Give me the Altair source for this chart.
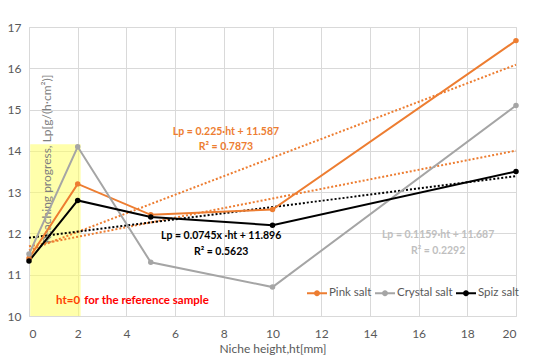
import altair as alt
import pandas as pd

# ---- data ----
ht = [0, 2, 5, 10, 20]
series_names = ["Pink salt", "Crystal salt", "Spiz salt"]
pink = [11.40, 13.20, 12.45, 12.58, 16.67]
crystal = [11.50, 14.10, 11.30, 10.70, 15.10]
spiz = [11.33, 12.80, 12.40, 12.20, 13.50]
colors = ["#ED7D31", "#A5A5A5", "#000000"]

# trend lines (from printed equations)
trend_names = ["Pink trend", "Crystal trend", "Spiz trend"]
trend_slope = [0.225, 0.1159, 0.0745]
trend_icpt = [11.587, 11.687, 11.896]
trend_colors = ["#ED7D31", "#ED7D31", "#000000"]
trend_x = [0, 20]

# annotations
eq_text = ["Lp = 0.225·ht + 11.587", "R² = 0.7873",
           "Lp = 0.0745x ·ht + 11.896", "R² = 0.5623",
           "Lp = 0.1159·ht + 11.687", "R² = 0.2292"]
eq_x = [8.09, 8.09, 7.89, 7.89, 16.8, 16.8]
eq_y = [14.46, 14.09, 11.94, 11.55, 11.96, 11.57]
eq_col = ["#ED7D31", "#ED7D31", "#000000", "#000000", "#BFBFBF", "#BFBFBF"]

FONT = "Lato"

rows = []
for name, vals in zip(series_names, [pink, crystal, spiz]):
    for x, v in zip(ht, vals):
        rows.append({"ht": x, "Lp": v, "series": name})
df = pd.DataFrame(rows)

trows = []
for name, s, b, c in zip(trend_names, trend_slope, trend_icpt, trend_colors):
    for x in trend_x:
        trows.append({"ht": x, "Lp": s * x + b, "trend": name})
tdf = pd.DataFrame(trows)

adf = pd.DataFrame({"x": eq_x, "y": eq_y, "t": eq_text, "c": eq_col})

xs = alt.Scale(domain=[0, 20], nice=False, zero=False)
ys = alt.Scale(domain=[10, 17], nice=False, zero=False)

xax = alt.Axis(values=list(range(0, 21, 2)), title="Niche height,ht[mm]", grid=True,
               ticks=False, domain=False, labelPadding=12, titlePadding=4,
               labelFontSize=12, titleFontSize=12, titleFontWeight="normal",
               labelColor="#595959", titleColor="#595959", labelFont=FONT, titleFont=FONT,
               gridColor="#D9D9D9")
yax = alt.Axis(values=list(range(10, 18)), title=None, grid=True, ticks=False, domain=False,
               labelPadding=8, labelFontSize=12, labelColor="#595959", labelFont=FONT,
               gridColor="#D9D9D9")

# yellow highlight
rect_df = pd.DataFrame({"x1": [0.05], "x2": [2.12], "y1": [10.0], "y2": [14.16]})
rect = alt.Chart(rect_df).mark_rect(color="#FFFF66", opacity=0.55).encode(
    x=alt.X("x1:Q", scale=xs, axis=xax), x2="x2", y=alt.Y("y1:Q", scale=ys, axis=yax), y2="y2")

ytitle = alt.Chart(pd.DataFrame({"x": [0.74], "y": [13.80],
                                 "t": ["Reaching progress, Lp[g/(h·cm²)]"]})).mark_text(
    angle=270, font=FONT, fontSize=12, color="#7F7F7F", align="center", baseline="middle").encode(
    x=alt.X("x:Q", scale=xs), y=alt.Y("y:Q", scale=ys), text="t:N")

trend = alt.Chart(tdf).mark_line(strokeWidth=2, strokeDash=[2, 2]).encode(
    x=alt.X("ht:Q", scale=xs), y=alt.Y("Lp:Q", scale=ys),
    color=alt.Color("trend:N", scale=alt.Scale(domain=trend_names, range=trend_colors), legend=None),
    detail="trend:N")

cscale = alt.Scale(domain=series_names, range=colors)
lines = alt.Chart(df).mark_line(strokeWidth=2).encode(
    x=alt.X("ht:Q", scale=xs), y=alt.Y("Lp:Q", scale=ys),
    color=alt.Color("series:N", scale=cscale, legend=None))

sym = "M-1,-0.1L1,-0.1L1,0.1L-1,0.1Z M0.3,0A0.3,0.3,0,1,1,-0.3,0A0.3,0.3,0,1,1,0.3,0Z"
points = alt.Chart(df).mark_point(filled=True, size=30, opacity=1).encode(
    x=alt.X("ht:Q", scale=xs), y=alt.Y("Lp:Q", scale=ys),
    color=alt.Color("series:N", scale=cscale, legend=alt.Legend(
        title=None, orient="none", direction="horizontal", legendX=278, legendY=256,
        symbolType=sym, symbolSize=400, symbolStrokeWidth=0, labelFont=FONT, labelFontSize=11.5,
        labelColor="#595959", labelOffset=2, columnPadding=3, symbolOpacity=1)))

ann = alt.Chart(adf).mark_text(font=FONT, fontSize=10.5, fontWeight="bold", align="center",
                               baseline="middle").encode(
    x=alt.X("x:Q", scale=xs), y=alt.Y("y:Q", scale=ys), text="t:N",
    color=alt.Color("c:N", scale=None))

red1 = alt.Chart(pd.DataFrame({"x": [1.11], "y": [10.36], "t": ["ht=0"]})).mark_text(
    font=FONT, fontSize=11.5, fontWeight="bold", align="left", baseline="middle", color="#FF4000").encode(
    x=alt.X("x:Q", scale=xs), y=alt.Y("y:Q", scale=ys), text="t:N")
red2 = alt.Chart(pd.DataFrame({"x": [2.27], "y": [10.36], "t": ["for the reference sample"]})).mark_text(
    font=FONT, fontSize=11.5, fontWeight="bold", align="left", baseline="middle", color="#FF0000").encode(
    x=alt.X("x:Q", scale=xs), y=alt.Y("y:Q", scale=ys), text="t:N")

chart = alt.layer(rect, ytitle, trend, lines, points, ann, red1, red2).resolve_scale(
    color="independent").properties(
    width=487, height=289,
    autosize=alt.AutoSizeParams(type="none"),
    padding={"left": 21, "top": 19, "right": 26, "bottom": 39},
).configure_view(stroke=None).configure(background="white")

chart.save("out.html", embed_options={"renderer": "svg", "actions": False})
